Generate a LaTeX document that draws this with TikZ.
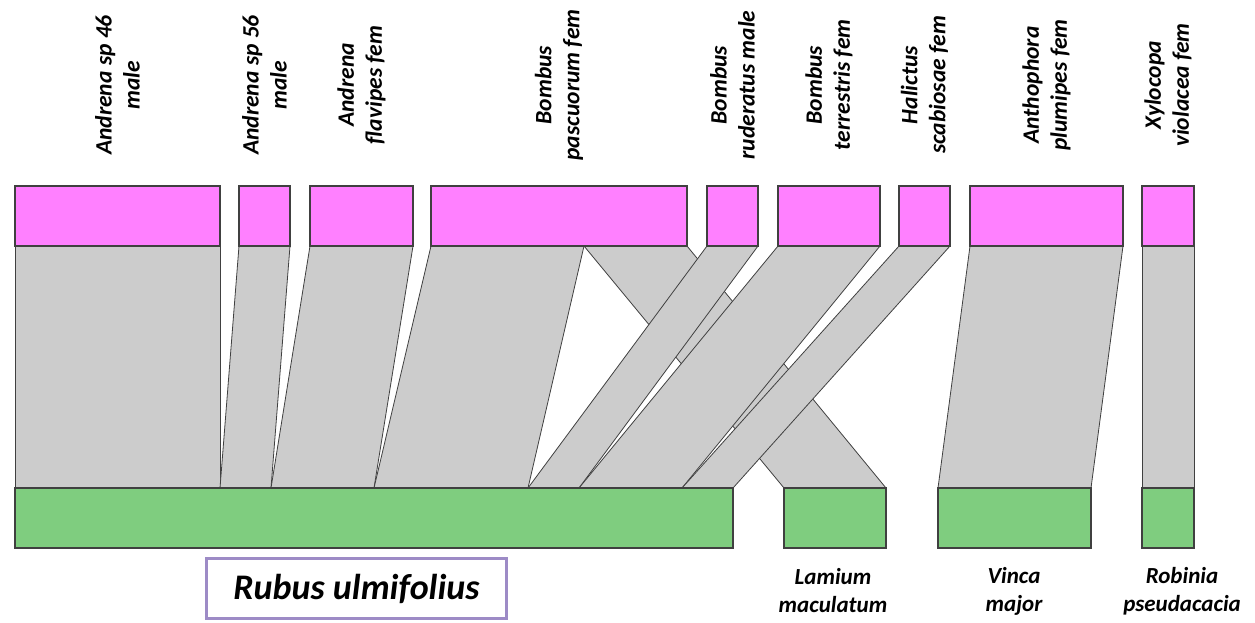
\documentclass[tikz,border=0pt]{standalone}
\usepackage{fontspec}
\setmainfont{Carlito}
\definecolor{beepink}{HTML}{FF80FF}
\definecolor{plantgreen}{HTML}{7FCD7F}
\definecolor{linkgray}{HTML}{CCCCCC}
\definecolor{framepurple}{HTML}{9D8BC6}
\begin{document}
\begin{tikzpicture}
    [%%%%%%%%%%%%%%%%%%%%%%%%%%%%%%
        x=1pt,y=-1pt,
        bee/.style={draw=black!75,fill=beepink,line width=1.1pt},
        plant/.style={draw=black!75,fill=plantgreen,line width=1.1pt},
        link/.style={draw=black!75,fill=linkgray,line width=0.8pt,line join=round},
        beelabel/.style={rotate=90,align=center,inner sep=0pt,
            font=\bfseries\itshape\fontsize{23.5}{28}\selectfont},
        plantlabel/.style={align=center,inner sep=0pt,
            font=\bfseries\itshape\fontsize{23}{28}\selectfont},
        rubusbox/.style={draw=framepurple,line width=3pt,fill=white,
            minimum width=300pt,minimum height=60pt,
            font=\bfseries\itshape\fontsize{36}{40}\selectfont},
    ]%%%%%%%%%%%%%%%%%%%%%%%%%%%%%%

\useasboundingbox (0,0) rectangle (1255,622);

% Bombus pascuorum -> Lamium goes underneath
\draw[link] (584,246) -- (687,246) -- (886,488) -- (784,488) -- cycle;

\foreach \a/\b/\c/\d in {15/220/15/220, 239/290/220/271, 310/413/271/374,
    431/584/374/528, 707/758/528/579, 778/880/579/682, 899/950/682/733,
    970/1123/938/1091, 1142/1194/1142/1194}
    \draw[link] (\a,246) -- (\b,246) -- (\d,488) -- (\c,488) -- cycle;

% bees
\foreach \a/\b/\txt [count=\i] in {15/220/{Andrena sp 46\\male},
    239/290/{Andrena sp 56\\male}, 310/413/{Andrena\\flavipes fem},
    431/687/{Bombus\\pascuorum fem}, 707/758/{Bombus\\ruderatus male},
    778/880/{Bombus\\terrestris fem}, 899/950/{Halictus\\scabiosae fem},
    970/1123/{Anthophora\\plumipes fem}, 1142/1194/{Xylocopa\\violacea fem}}{
    \draw[bee] (\a,186) rectangle (\b,246);
    \node[beelabel] (bee\i) at ({(\a+\b)/2},85) {\txt};
}

% plants
\foreach \a/\b in {15/733, 784/886, 938/1091, 1142/1194}
    \draw[plant] (\a,488) rectangle (\b,548);

\node[rubusbox] (rubus) at (356.5,588.5) {Rubus ulmifolius};
\node[plantlabel] (lamium) at (833,591) {Lamium\\maculatum};
\node[plantlabel] (vinca) at (1014,591) {Vinca\\major};
\node[plantlabel] (robinia) at (1182,591) {Robinia\\pseudacacia};
\end{tikzpicture}
\end{document}
